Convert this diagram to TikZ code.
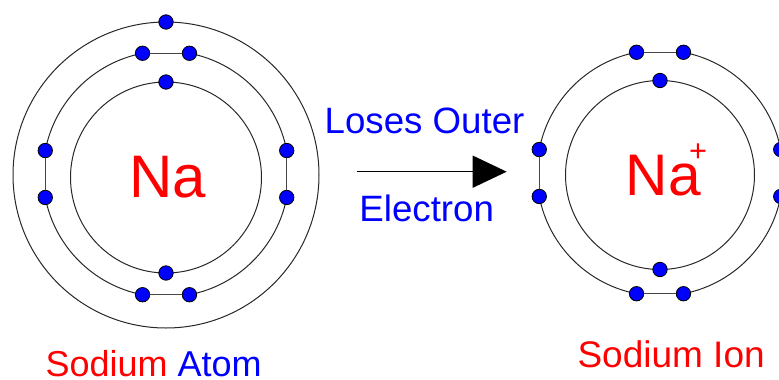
\documentclass[tikz,border=0pt]{standalone}
\usepackage{fontspec}
\setmainfont{Liberation Sans}
\usetikzlibrary{arrows.meta,calc}
\definecolor{ered}{RGB}{255,0,0}
\definecolor{eblue}{RGB}{0,0,255}
\definecolor{shellgray}{RGB}{40,40,40}
\definecolor{chordgray}{RGB}{70,70,70}
\tikzset{
  shell/.style={draw=shellgray, line width=0.75pt},
  electron/.style={circle, fill=eblue, draw=black, line width=0.6pt, minimum size=10.8pt, inner sep=0pt},
  chord/.style={draw=chordgray, line width=1pt},
  lbl/.style={inner sep=0pt, anchor=base west},
}
\begin{document}
\begin{tikzpicture}[x=0.75pt,y=-0.75pt]
\useasboundingbox (0,0) rectangle (779,379);
\clip (0,0) rectangle (779,379);
% ---- Sodium atom ----
\coordinate (Ai) at (166,177.5);
\coordinate (Am) at (166,174);
\coordinate (Ao) at (166,175);
\draw[shell] (Ai) circle[radius=95.5];
\draw[shell] (Ao) circle[radius=153];
% middle shell: arcs between the pairs
\foreach \s in {11,101,191,281}{
  \draw[shell] ($(Am)+(\s:123)$) arc[start angle=\s, delta angle=68, radius=123];
}
% inner shell electrons
\node[electron] (a1) at ($(Ai)+(0,-95.5)$) {};
\node[electron] (a2) at ($(Ai)+(0,95.5)$) {};
% middle shell electrons (pairs)
\node[electron] (a3) at ($(Am)+(-101:123)$) {};
\node[electron] (a4) at ($(Am)+(-79:123)$) {};
\node[electron] (a5) at ($(Am)+(-11:123)$) {};
\node[electron] (a6) at ($(Am)+(11:123)$) {};
\node[electron] (a7) at ($(Am)+(79:123)$) {};
\node[electron] (a8) at ($(Am)+(101:123)$) {};
\node[electron] (a9) at ($(Am)+(169:123)$) {};
\node[electron] (a10) at ($(Am)+(191:123)$) {};
% outer shell electron
\node[electron] (a11) at ($(Ao)+(0,-153)$) {};
\draw[chord] (a3) -- (a4);
\draw[chord] (a5) -- (a6);
\draw[chord] (a7) -- (a8);
\draw[chord] (a9) -- (a10);
\node[inner sep=0pt, anchor=base, text=ered, font=\fontsize{45}{50}\selectfont] (naA) at (168,197) {Na};
\node[lbl, font=\fontsize{27}{30}\selectfont] (labA) at (45.3,376) {\textcolor{ered}{Sodium} \textcolor{eblue}{Atom}};
% ---- Arrow ----
\node[lbl, text=eblue, font=\fontsize{27.5}{30}\selectfont] (loses) at (324.4,133) {Loses Outer};
\node[lbl, text=eblue, font=\fontsize{27.5}{30}\selectfont] (elec) at (359.2,221.7) {Electron};
\coordinate (arS) at (356.7,171.7);
\coordinate (arE) at (506.7,171.7);
\draw[line width=1pt, -{Triangle[length=25.5pt, width=24pt]}] (arS) -- (arE);
% ---- Sodium ion ----
\coordinate (Ii) at (660,175);
\coordinate (Io) at (660,173);
\draw[shell] (Ii) circle[radius=94.5];
\foreach \s in {11,101,191,281}{
  \draw[shell] ($(Io)+(\s:123)$) arc[start angle=\s, delta angle=68, radius=123];
}
\node[electron] (b1) at ($(Ii)+(0,-94.5)$) {};
\node[electron] (b2) at ($(Ii)+(0,94.5)$) {};
\node[electron] (b3) at ($(Io)+(-101:123)$) {};
\node[electron] (b4) at ($(Io)+(-79:123)$) {};
\node[electron] (b5) at ($(Io)+(-11:123)$) {};
\node[electron] (b6) at ($(Io)+(11:123)$) {};
\node[electron] (b7) at ($(Io)+(79:123)$) {};
\node[electron] (b8) at ($(Io)+(101:123)$) {};
\node[electron] (b9) at ($(Io)+(169:123)$) {};
\node[electron] (b10) at ($(Io)+(191:123)$) {};
\draw[chord] (b3) -- (b4);
\draw[chord] (b5) -- (b6);
\draw[chord] (b7) -- (b8);
\draw[chord] (b9) -- (b10);
\node[lbl, text=ered, font=\fontsize{44}{50}\selectfont] (naI) at (625.5,195) {Na};
\node[inner sep=0pt, anchor=base, text=ered, font=\fontsize{23}{26}\selectfont] (plus) at (698,161) {+};
\node[lbl, font=\fontsize{27.75}{30}\selectfont, text=ered] (labI) at (577.3,367.7) {Sodium Ion};
\end{tikzpicture}
\end{document}
